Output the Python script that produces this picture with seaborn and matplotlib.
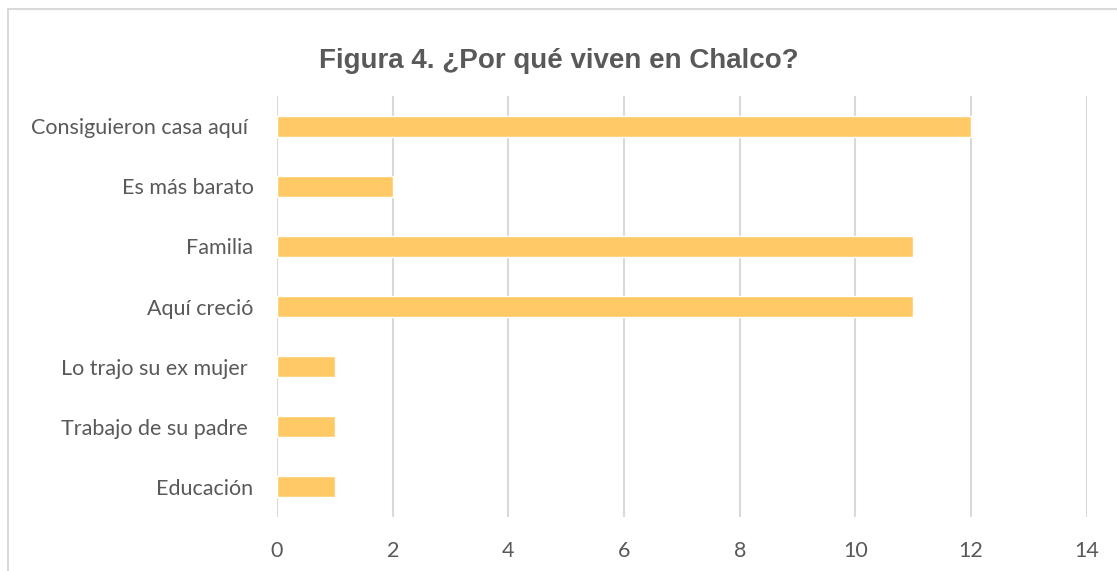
import matplotlib
matplotlib.use("Agg")
import matplotlib.pyplot as plt
import seaborn as sns
import pandas as pd
from matplotlib.patches import Rectangle

# data
razones = ["Consiguieron casa aquí ", "Es más barato", "Familia", "Aquí creció",
           "Lo trajo su ex mujer ", "Trabajo de su padre ", "Educación"]
personas = [12, 2, 11, 11, 1, 1, 1]

df = pd.DataFrame({"razon": razones, "personas": personas})

sns.set_style("white")
plt.rcParams['font.family'] = ['Lato', 'DejaVu Sans']

fig = plt.figure(figsize=(11.17, 5.71), dpi=100)
ax = fig.add_axes([0.248, 0.0946, 0.725, 0.737])

sns.barplot(data=df, y="razon", x="personas", color="#FFCA66", width=0.35,
            saturation=1, ax=ax, zorder=3)

ax.set_xlim(0, 14)
ax.set_xticks(range(0, 15, 2))
ax.xaxis.grid(True, color="#D9D9D9", linewidth=1.5, zorder=0)
ax.set_axisbelow(True)
for s in ax.spines.values():
    s.set_visible(False)
ax.tick_params(axis="both", length=0, labelsize=15.5, colors="#595959")
ax.tick_params(axis="y", pad=17)
ax.tick_params(axis="x", pad=17)
ax.set_xlabel("")
ax.set_ylabel("")

fig.text(0.5, 0.893, "Figura 4. ¿Por qué viven en Chalco?", ha="center", va="center",
         fontsize=20, fontweight="bold", color="#595959", family="Liberation Sans")

# outer chart border
fig.patches.append(Rectangle((8 / 1117, -0.05), 1.2, 1 - 9 / 571 + 0.05,
                             transform=fig.transFigure, fill=False,
                             edgecolor="#D9D9D9", linewidth=1.5))

fig.savefig("out.png", dpi=100)
